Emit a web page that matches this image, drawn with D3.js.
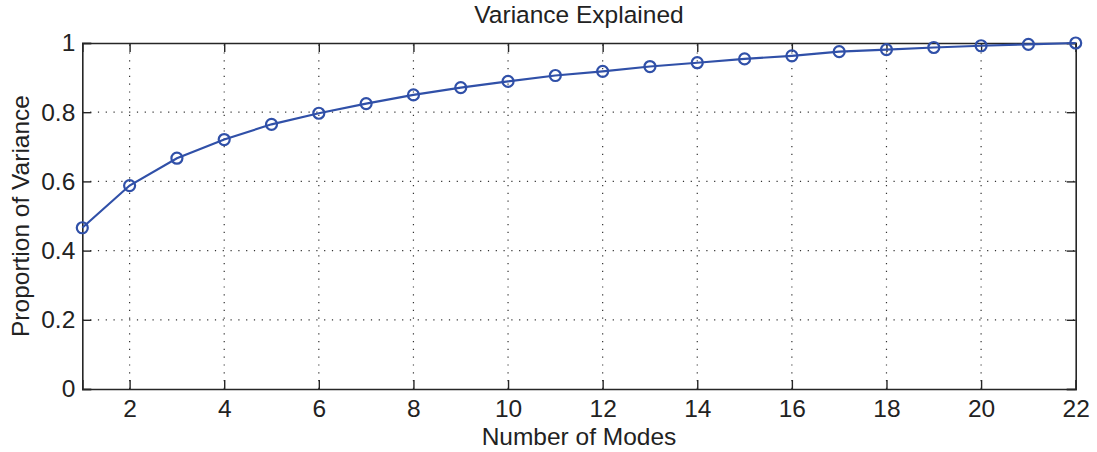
<!DOCTYPE html>
<html>
<head>
<meta charset="utf-8">
<script src="https://cdn.jsdelivr.net/npm/d3@7"></script>
<style>
body{margin:0;background:#fff;}
text{font-family:"Liberation Sans",Arial,Helvetica,sans-serif;fill:#222;}
</style>
</head>
<body>
<svg id="chart" width="1097" height="452"></svg>
<script>
// number of modes and cumulative variance
var modes=d3.range(1,23);
var variance=[0.466,0.588,0.667,0.721,0.765,0.797,0.825,0.850,0.871,0.889,0.906,0.918,0.932,0.943,0.954,0.963,0.975,0.981,0.987,0.992,0.996,1.0];
var xTicks=[2,4,6,8,10,12,14,16,18,20,22];
var yTicks=[0,0.2,0.4,0.6,0.8,1];

var pLeft=82.3,pRight=1075.7,pTop=43,pBottom=389; //plot box
var svg=d3.select("#chart");
var x=d3.scaleLinear().domain([1,22]).range([pLeft,pRight]);
var y=d3.scaleLinear().domain([0,1]).range([pBottom,pTop]);

//dotted grid
var grid=svg.append("g").attr("stroke","#333").attr("stroke-width",1.2).attr("stroke-dasharray","1.2,6.6");
grid.selectAll(".gx").data(xTicks.filter(function(d){return d<22;})).enter().append("line")
	.attr("x1",function(d){return x(d);}).attr("x2",function(d){return x(d);})
	.attr("y1",pBottom).attr("y2",pTop);
grid.selectAll(".gy").data(yTicks.filter(function(d){return d>0&&d<1;})).enter().append("line")
	.attr("y1",function(d){return y(d);}).attr("y2",function(d){return y(d);})
	.attr("x1",pLeft).attr("x2",pRight);

//axes, ticks point inward (box on all four sides)
var tl=9;
var xb=svg.append("g").attr("transform","translate(0,"+pBottom+")")
	.call(d3.axisBottom(x).tickValues(xTicks).tickSize(-tl).tickPadding(11).tickFormat(d3.format("d")));
var xt=svg.append("g").attr("transform","translate(0,"+pTop+")")
	.call(d3.axisTop(x).tickValues(xTicks).tickSize(-tl).tickFormat(""));
var yl=svg.append("g").attr("transform","translate("+pLeft+",0)")
	.call(d3.axisLeft(y).tickValues(yTicks).tickSize(-tl).tickPadding(7).tickFormat(function(d){return d3.format("")(d);}));
var yr=svg.append("g").attr("transform","translate("+pRight+",0)")
	.call(d3.axisRight(y).tickValues(yTicks).tickSize(-tl).tickFormat(""));
[xb,xt,yl,yr].forEach(function(a){
	a.select(".domain").attr("stroke","#262626").attr("stroke-width",1.6);
	a.selectAll(".tick line").attr("stroke","#262626").attr("stroke-width",1.4);
	a.selectAll("text").attr("font-size",24.5).attr("fill","#222").attr("font-family","'Liberation Sans',Arial,sans-serif");
});
xb.selectAll("text").attr("dy","0.71em");

//series
var line=d3.line().x(function(d,i){return x(modes[i]);}).y(function(d){return y(d);});
svg.append("path").datum(variance).attr("d",line).attr("fill","none")
	.attr("stroke","#3050a8").attr("stroke-width",2.2);
svg.selectAll(".pt").data(variance).enter().append("circle")
	.attr("cx",function(d,i){return x(modes[i]);}).attr("cy",function(d){return y(d);})
	.attr("r",5.5).attr("fill","none").attr("stroke","#3050a8").attr("stroke-width",2.2);

//labels
svg.append("text").attr("x",(pLeft+pRight)/2).attr("y",23).attr("text-anchor","middle")
	.attr("font-size",24.5).text("Variance Explained");
svg.append("text").attr("x",(pLeft+pRight)/2).attr("y",445).attr("text-anchor","middle")
	.attr("font-size",24.5).text("Number of Modes");
svg.append("text").attr("transform","translate(29,"+((pTop+pBottom)/2)+") rotate(-90)")
	.attr("text-anchor","middle").attr("font-size",24.5).text("Proportion of Variance");
</script>
</body>
</html>
